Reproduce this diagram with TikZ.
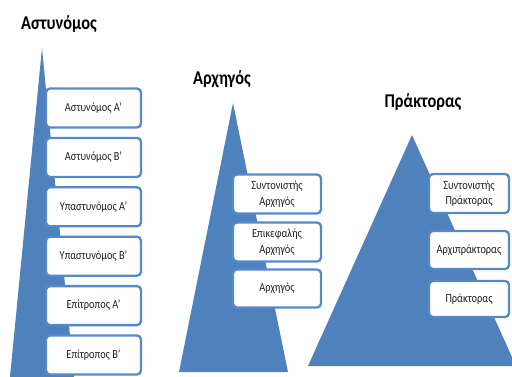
\documentclass[tikz,border=0pt]{standalone}
\usepackage{fontspec}
\setmainfont{Carlito}
\newfontfamily\condfont[FakeStretch=0.84]{Carlito}
\definecolor{triblue}{RGB}{79,129,189}
\definecolor{boxblue}{RGB}{86,137,200}
\definecolor{txt}{RGB}{30,30,30}
\tikzset{
  tri/.style={fill=triblue, draw=none},
  lvlbox/.style={draw=boxblue, line width=2.3pt, fill=white, rounded corners=4pt,
    inner sep=1pt, align=center, font=\condfont\fontsize{12.3}{15.5}\selectfont, text=txt},
  ttl/.style={font=\condfont\fontsize{19.5}{21}\selectfont\bfseries, text=black}
}
\begin{document}
\begin{tikzpicture}[x=1pt,y=-1pt]
\useasboundingbox (0,0) rectangle (512,376);
% pyramid 1
\fill[tri] (42,48) -- (74,377) -- (10,377) -- cycle;
\node[ttl] (t1) at (59,24) {Αστυνόμος};
\foreach \n/\y/\t in {a1/108/{Αστυνόμος Α’}, a2/157.4/{Αστυνόμος Β’}, a3/206.8/{Υπαστυνόμος Α’},
  a4/256.2/{Υπαστυνόμος Β’}, a5/305.6/{Επίτροπος Α’}, a6/355/{Επίτροπος Β’}}
  \node[lvlbox, minimum width=95pt, minimum height=39pt] (\n) at (93.5,\y) {\t};
% pyramid 2
\fill[tri] (233,103) -- (288,372) -- (179,372) -- cycle;
\node[ttl] (t2) at (222,79) {Αρχηγός};
\node[lvlbox, minimum width=88pt, minimum height=39pt] (b1) at (277,194) {Συντονιστής\\Αρχηγός};
\node[lvlbox, minimum width=88pt, minimum height=39pt] (b2) at (277,242) {Επικεφαλής\\Αρχηγός};
\node[lvlbox, minimum width=88pt, minimum height=38pt] (b3) at (277,288.5) {Αρχηγός};
% pyramid 3
\fill[tri] (412,135) -- (516,366) -- (308,366) -- cycle;
\node[ttl] (t3) at (423,102) {Πράκτορας};
\node[lvlbox, minimum width=80pt, minimum height=39pt] (c1) at (469,193.5) {Συντονιστής\\Πράκτορας};
\node[lvlbox, minimum width=80pt, minimum height=38pt] (c2) at (469,250) {Αρχιπράκτορας};
\node[lvlbox, minimum width=80pt, minimum height=36pt] (c3) at (469,299) {Πράκτορας};
\end{tikzpicture}
\end{document}
